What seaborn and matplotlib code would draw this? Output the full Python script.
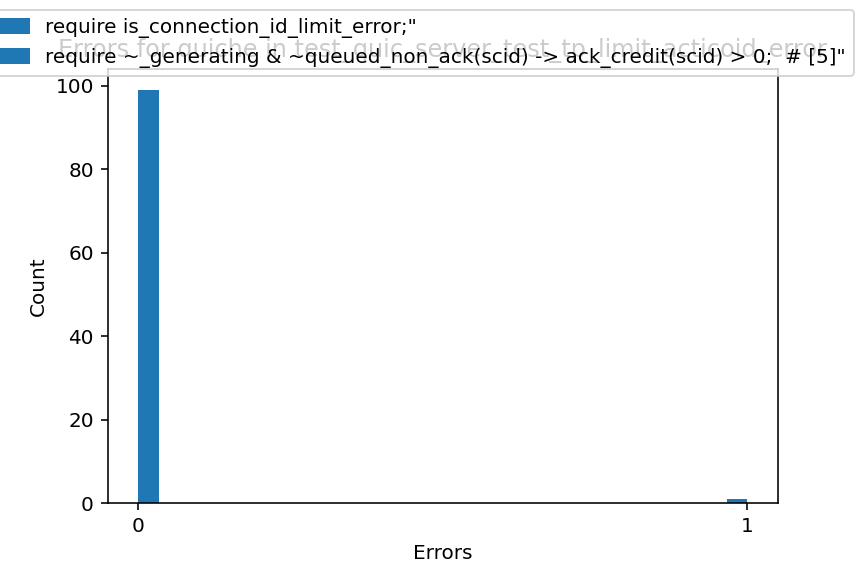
import numpy as np
import pandas as pd
import matplotlib
matplotlib.use('Agg')
import matplotlib.pyplot as plt
import matplotlib.patches as mpatches
import seaborn as sns

# data
error_values = [0, 1]
error_counts = [99, 1]
legend_labels = [
    'require is_connection_id_limit_error;"',
    'require ~_generating & ~queued_non_ack(scid) -> ack_credit(scid) > 0;  # [5]"',
]
title = 'Errors for quiche in test_quic_server_test_tp_limit_acticoid_error'

df = pd.DataFrame({'Errors': error_values, 'n': error_counts})

fig, ax = plt.subplots(figsize=(6, 4), dpi=144)
fig.subplots_adjust(left=0.125, right=0.9, top=0.88, bottom=0.126)

sns.histplot(data=df, x='Errors', weights='n', bins=30, binrange=(0, 1),
             color='#1f77b4', alpha=1, linewidth=0, ax=ax)
ax.set_xticks([0, 1])
ax.set_xlabel('Errors')
ax.set_ylabel('Count')
ax.set_title(title)

handles = [mpatches.Patch(color='#1f77b4') for _ in legend_labels]
fig.legend(handles, legend_labels, loc='upper right')

fig.savefig('out.png', dpi=144)
